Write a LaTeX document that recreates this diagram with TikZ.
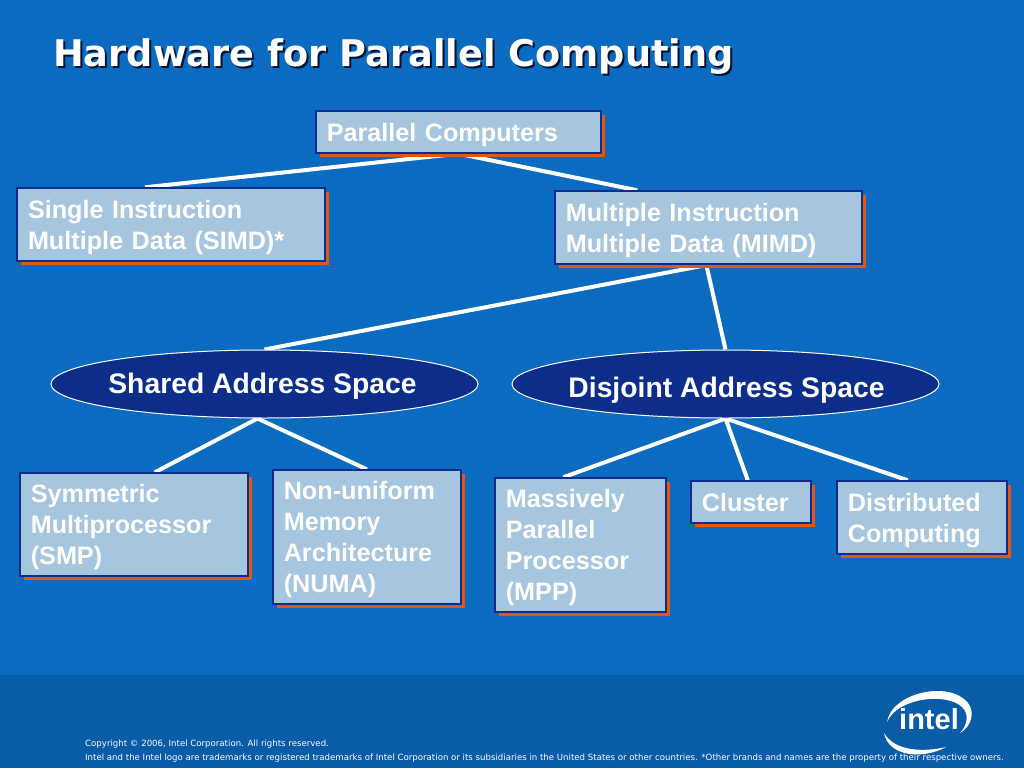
\documentclass[tikz,border=0pt]{standalone}
\usepackage{fontspec}
\setmainfont{Liberation Sans}
\newfontfamily\titlefont{DejaVu Sans}
\usetikzlibrary{backgrounds,shadows,shapes.geometric}
\definecolor{slidebg}{HTML}{0A6BC0}
\definecolor{bandbg}{HTML}{085CA8}
\definecolor{boxbg}{HTML}{A6C5DE}
\definecolor{navy}{HTML}{0C2E8A}
\definecolor{rust}{HTML}{E8560C}
\newcommand{\spacetext}[2]{\raisebox{#1}[0pt][0pt]{\makebox[0pt]{#2}}}
\begin{document}
\begin{tikzpicture}[
  x=1pt,y=-1pt,
  box/.style={draw=navy,line width=1.4pt,fill=boxbg,text=white,align=left,
              inner xsep=11pt,inner ysep=0pt,font=\fontsize{25.2}{31}\selectfont\bfseries,
              general shadow={fill=rust,shadow xshift=4pt,shadow yshift=-4pt}},
  tbox/.style={box,execute at begin node=\rule{0pt}{24pt}},
  space/.style={ellipse,draw=white,line width=1pt,fill=navy,text=white,inner sep=0pt,
                minimum width=427pt,minimum height=68pt,
                font=\fontsize{28.3}{32}\selectfont\bfseries},
  link/.style={draw=white,line width=4pt},
  heading/.style={font=\titlefont\fontsize{36.7}{40}\selectfont\bfseries,anchor=west,inner sep=0pt},
  legal/.style={font=\titlefont\fontsize{8.6}{10}\selectfont,text=white,anchor=west,inner sep=0pt}
]
\useasboundingbox (0,0) rectangle (1024,768);
% ---------- title ----------
\node[heading,text=black!65!navy] (titleshadow) at (55,59) {Hardware for Parallel Computing};
\node[heading,text=white] (title) at (53,57) {Hardware for Parallel Computing};
% ---------- boxes ----------
\node[tbox,text width=263pt,minimum height=42pt] (parallel) at (458.3,132) {Parallel Computers};
\node[tbox,text width=286pt,minimum height=73pt] (simd) at (171,224.5) {Single Instruction\\Multiple Data (SIMD)*};
\node[tbox,text width=285pt,minimum height=73pt] (mimd) at (708.3,227.5) {Multiple Instruction\\Multiple Data (MIMD)};
\node[space] (shared) at (264.5,384) {\spacetext{-9pt}{\hspace*{-4pt}Shared Address Space}};
\node[space] (disjoint) at (725.5,384) {\spacetext{-13pt}{\hspace*{2pt}Disjoint Address Space}};
\node[tbox,text width=206pt,minimum height=103pt] (smp) at (133.8,524.5) {Symmetric\\Multiprocessor\\(SMP)};
\node[tbox,text width=166pt,minimum height=134pt] (numa) at (366.8,537) {Non-uniform\\Memory\\Architecture\\(NUMA)};
\node[tbox,text width=149pt,minimum height=134pt] (mpp) at (580.3,545) {Massively\\Parallel\\Processor\\(MPP)};
\node[box,text width=98pt,minimum height=42pt] (cluster) at (750.8,502) {Cluster};
\node[tbox,text width=148pt,minimum height=73pt] (dist) at (921.8,517.5) {Distributed\\Computing};
% ---------- links ----------
\begin{scope}[on background layer]
\fill[slidebg] (0,0) rectangle (1024,768);
\fill[bandbg] (0,675) rectangle (1024,768);
\draw[link] (parallel.south) -- ([xshift=-26pt]simd.north);
\draw[link] (parallel.south) -- ([xshift=-71pt]mimd.north);
\draw[link] (mimd.south) -- (shared.north);
\draw[link] ([xshift=-2pt]mimd.south) -- (disjoint.north);
\draw[link] ([xshift=-7pt]shared.south) -- ([xshift=21pt]smp.north);
\draw[link] ([xshift=-7pt]shared.south) -- (numa.north);
\draw[link] (disjoint.south) -- ([xshift=-17pt]mpp.north);
\draw[link] (disjoint.south) -- ([xshift=-3pt]cluster.north);
\draw[link] (disjoint.south) -- ([xshift=-14pt]dist.north);
\end{scope}
% ---------- footer ----------
\node[legal] (copyright) at (85,744) {Copyright © 2006, Intel Corporation. All rights reserved.};
\node[legal] (trademark) at (85,758.5) {Intel and the Intel logo are trademarks or registered trademarks of Intel Corporation or its subsidiaries in the United States or other countries. *Other brands and names are the property of their respective owners.};
\node[font=\fontsize{29}{31}\selectfont\bfseries,text=white,inner sep=0pt] (intel) at (929,719) {intel};
\fill[white] (887,722) .. controls (892,692) and (950,680) .. (968,703)
  .. controls (975,712) and (972,726) .. (960,733)
  .. controls (968,724) and (969,714) .. (962,707)
  .. controls (946,692) and (897,698) .. (887,722) -- cycle;
\fill[white] (884,733) .. controls (889,758) and (925,759) .. (946,747)
  .. controls (925,752) and (895,752) .. (884,733) -- cycle;
\end{tikzpicture}
\end{document}
